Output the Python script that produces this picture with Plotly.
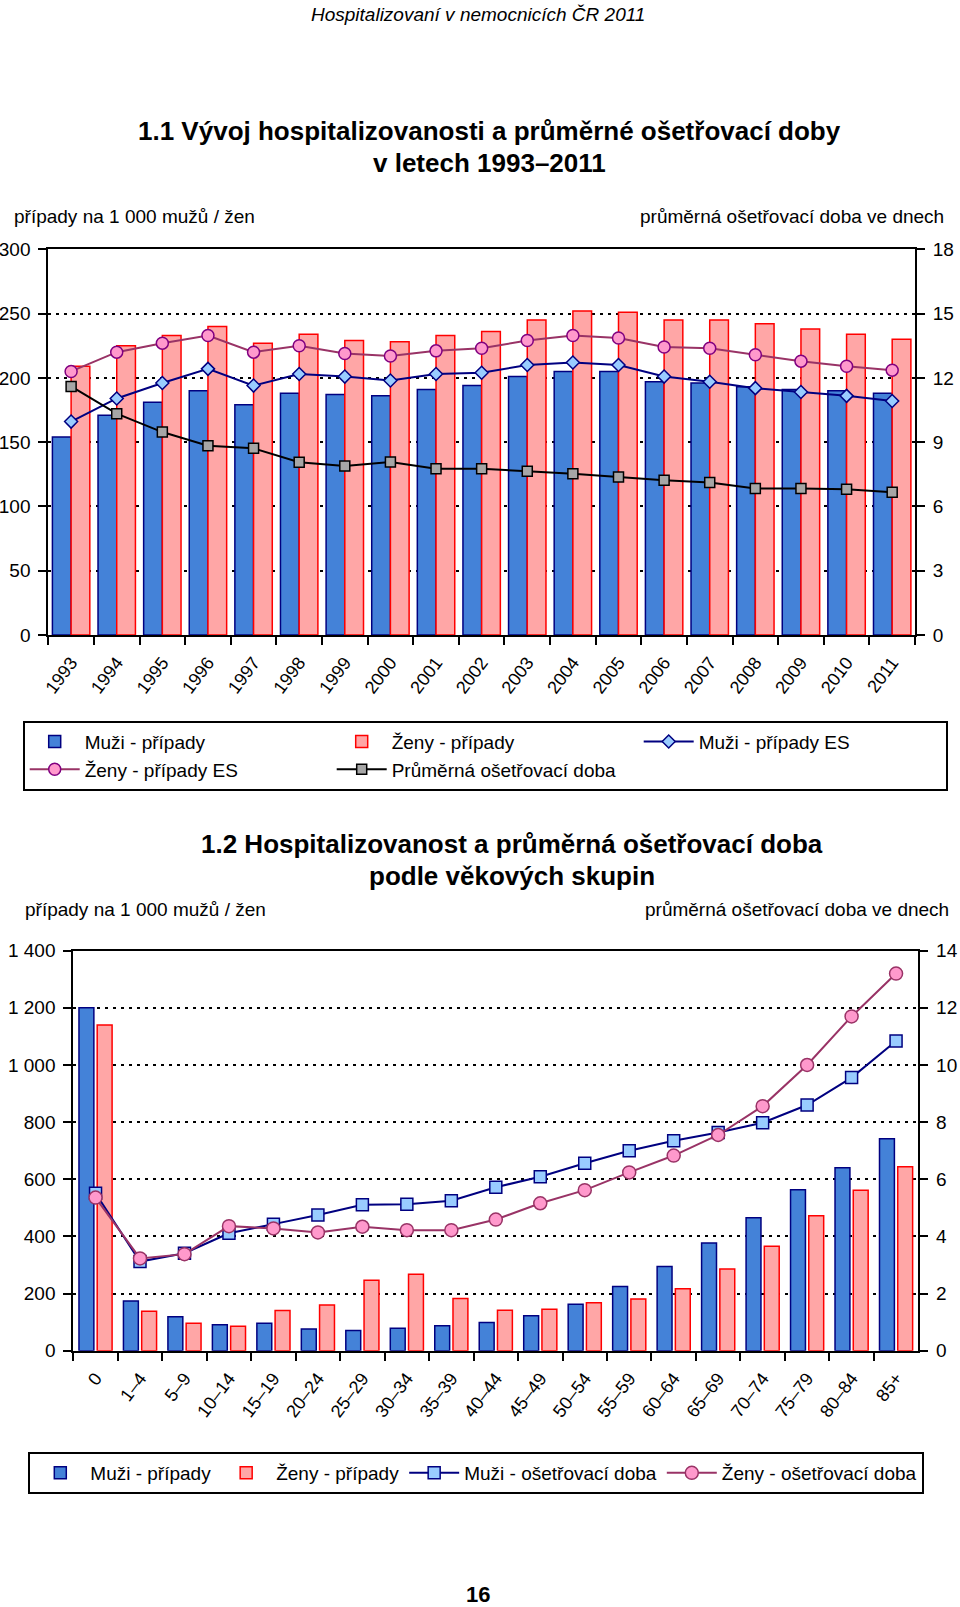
import plotly.graph_objects as go

# ---------------- data: chart 1.1 ----------------
years = [str(y) for y in range(1993, 2012)]
muzi_pripady = [154, 171, 181, 190, 179, 188, 187, 186, 191, 194, 201, 205, 205, 197, 196, 193, 191, 190, 188]
zeny_pripady = [209, 225, 233, 240, 227, 234, 229, 228, 233, 236, 245, 252, 251, 245, 245, 242, 238, 234, 230]
muzi_es = [166, 184, 196, 207, 194, 203, 201, 198, 203, 204, 210, 212, 210, 201, 197, 192, 189, 186, 182]
zeny_es = [205, 220, 227, 233, 220, 225, 219, 217, 221, 223, 229, 233, 231, 224, 223, 218, 213, 209, 206]
prum_doba = [11.6, 10.33, 9.47, 8.83, 8.71, 8.06, 7.89, 8.07, 7.76, 7.76, 7.64, 7.53, 7.37, 7.22, 7.12, 6.84, 6.84, 6.80, 6.66]

# ---------------- data: chart 1.2 ----------------
vek = ["0", "1–4", "5–9", "10–14", "15–19", "20–24", "25–29", "30–34", "35–39", "40–44",
       "45–49", "50–54", "55–59", "60–64", "65–69", "70–74", "75–79", "80–84", "85+"]
muzi_vek = [1200, 174, 119, 91, 96, 76, 71, 79, 87, 99, 122, 163, 225, 295, 377, 465, 563, 640, 742]
zeny_vek = [1140, 138, 96, 86, 141, 160, 247, 268, 183, 142, 145, 168, 181, 217, 286, 366, 472, 562, 644]
muzi_doba = [5.51, 3.12, 3.41, 4.11, 4.43, 4.75, 5.11, 5.13, 5.25, 5.72, 6.09, 6.56, 7.0, 7.35, 7.64, 7.98, 8.6, 9.56, 10.84]
zeny_doba = [5.36, 3.23, 3.38, 4.36, 4.28, 4.14, 4.34, 4.22, 4.22, 4.59, 5.16, 5.62, 6.24, 6.83, 7.55, 8.56, 10.0, 11.7, 13.2]

left_ticks_2 = [0, 200, 400, 600, 800, 1000, 1200, 1400]
left_text_2 = ["0", "200", "400", "600", "800", "1 000", "1 200", "1 400"]

# ---------------- styling ----------------
W, H = 960, 1607
FONT = "Liberation Sans, Arial, sans-serif"
BLUE = "#4482D8"
BLUE_LINE = "#000080"
PINK = "#FFA6A6"
RED_LINE = "#FF0000"
MAUVE = "#993366"
PINK_MK = "#FF99CC"
LIGHTBLUE = "#99CCFF"
GRAY = "#A6A6A6"


def px_x(v):
    return v / W


def px_y(v):
    return 1 - v / H


fig = go.Figure()

# chart 1.1 traces
fig.add_trace(go.Bar(x=years, y=muzi_pripady, name="Muži - případy", xaxis="x", yaxis="y",
                     marker=dict(color=BLUE, line=dict(color=BLUE_LINE, width=1.5)), legend="legend"))
fig.add_trace(go.Bar(x=years, y=zeny_pripady, name="Ženy - případy", xaxis="x", yaxis="y",
                     marker=dict(color=PINK, line=dict(color=RED_LINE, width=1.5)), legend="legend"))
fig.add_trace(go.Scatter(x=years, y=muzi_es, name="Muži - případy ES", xaxis="x", yaxis="y",
                         mode="lines+markers", line=dict(color=BLUE_LINE, width=2),
                         marker=dict(symbol="diamond", size=10, color=LIGHTBLUE,
                                     line=dict(color=BLUE_LINE, width=1.5)), legend="legend"))
fig.add_trace(go.Scatter(x=years, y=zeny_es, name="Ženy - případy ES", xaxis="x", yaxis="y",
                         mode="lines+markers", line=dict(color=MAUVE, width=2),
                         marker=dict(symbol="circle", size=12, color=PINK_MK,
                                     line=dict(color="#800080", width=1.5)), legend="legend"))
fig.add_trace(go.Scatter(x=years, y=prum_doba, name="Průměrná ošetřovací doba", xaxis="x", yaxis="y2",
                         mode="lines+markers", line=dict(color="black", width=2),
                         marker=dict(symbol="square", size=10, color=GRAY,
                                     line=dict(color="black", width=1.5)), legend="legend"))

# chart 1.2 traces
fig.add_trace(go.Bar(x=vek, y=muzi_vek, name="Muži - případy", xaxis="x2", yaxis="y3",
                     marker=dict(color=BLUE, line=dict(color=BLUE_LINE, width=1.5)), legend="legend2"))
fig.add_trace(go.Bar(x=vek, y=zeny_vek, name="Ženy - případy", xaxis="x2", yaxis="y3",
                     marker=dict(color=PINK, line=dict(color=RED_LINE, width=1.5)), legend="legend2"))
fig.add_trace(go.Scatter(x=vek, y=muzi_doba, name="Muži - ošetřovací doba", xaxis="x2", yaxis="y4",
                         mode="lines+markers", line=dict(color=BLUE_LINE, width=2),
                         marker=dict(symbol="square", size=12, color=LIGHTBLUE,
                                     line=dict(color=BLUE_LINE, width=1.5)), legend="legend2"))
fig.add_trace(go.Scatter(x=vek, y=zeny_doba, name="Ženy - ošetřovací doba", xaxis="x2", yaxis="y4",
                         mode="lines+markers", line=dict(color=MAUVE, width=2),
                         marker=dict(symbol="circle", size=13, color=PINK_MK,
                                     line=dict(color=MAUVE, width=1.5)), legend="legend2"))

tickfont = dict(family=FONT, size=19, color="black")
grid = dict(showgrid=True, gridcolor="black", griddash="3px,5px", gridwidth=2)
common_y = dict(showline=True, linecolor="black", linewidth=2, ticks="outside", ticklen=8,
                tickwidth=2, tickcolor="black", tickfont=tickfont, zeroline=False, automargin=False,
                ticklabelstandoff=4)
common_x = dict(type="category", showline=True, linecolor="black", linewidth=2, mirror=True,
                ticks="outside", ticklen=8, tickwidth=2, tickcolor="black", tickson="boundaries",
                tickangle=-53, tickfont=dict(family=FONT, size=18, color="black"),
                showgrid=False, zeroline=False, automargin=False, ticklabelstandoff=8)

top_x = [px_x(48.3), px_x(915)]
top_y = [px_y(635), px_y(249.3)]
bot_x = [px_x(73.3), px_x(918.3)]
bot_y = [px_y(1350.7), px_y(950.7)]

legend_common = dict(orientation="h", bordercolor="black", borderwidth=2, bgcolor="white",
                     font=dict(family=FONT, size=19, color="black"), xanchor="left", yanchor="top",
                     traceorder="normal", itemwidth=50)

fig.update_layout(
    width=W, height=H,
    margin=dict(l=0, r=0, t=0, b=0),
    paper_bgcolor="white", plot_bgcolor="white",
    font=dict(family=FONT, size=19, color="black"),
    barmode="group",
    bargap=0.18,
    bargroupgap=0,
    xaxis=dict(domain=top_x, anchor="y", range=[-0.5, len(years) - 0.5], **common_x),
    yaxis=dict(domain=top_y, anchor="x", range=[0, 300], dtick=50, **grid, **common_y),
    yaxis2=dict(overlaying="y", side="right", anchor="x", range=[0, 18], dtick=3, showgrid=False,
                **common_y),
    xaxis2=dict(domain=bot_x, anchor="y3", range=[-0.5, len(vek) - 0.5], **common_x),
    yaxis3=dict(domain=bot_y, anchor="x2", range=[0, 1400], tickvals=left_ticks_2,
                ticktext=left_text_2, **grid, **common_y),
    yaxis4=dict(overlaying="y3", side="right", anchor="x2", range=[0, 14], dtick=2, showgrid=False,
                **common_y),
    legend=dict(x=px_x(22.7), y=px_y(720.7), entrywidth=242, entrywidthmode="pixels", **legend_common),
    legend2=dict(x=px_x(28.3), y=px_y(1452), **legend_common),
    showlegend=True,
)

# narrower bars in the lower chart
fig.update_traces(selector=dict(xaxis="x2", type="bar"), width=0.335)

annos = [
    dict(text="<i>Hospitalizovaní v nemocnicích ČR 2011</i>", x=px_x(478), y=px_y(14.5), size=19, anchor="center"),
    dict(text="<b>1.1 Vývoj hospitalizovanosti a průměrné ošetřovací doby</b>", x=px_x(489), y=px_y(131), size=26, anchor="center"),
    dict(text="<b>v letech 1993–2011</b>", x=px_x(489), y=px_y(163), size=26, anchor="center"),
    dict(text="případy na 1 000 mužů / žen", x=px_x(12), y=px_y(216), size=19, anchor="left"),
    dict(text="průměrná ošetřovací doba ve dnech", x=px_x(946), y=px_y(216), size=19, anchor="right"),
    dict(text="<b>1.2 Hospitalizovanost a průměrná ošetřovací doba</b>", x=px_x(512), y=px_y(844), size=26, anchor="center"),
    dict(text="<b>podle věkových skupin</b>", x=px_x(512), y=px_y(876), size=26, anchor="center"),
    dict(text="případy na 1 000 mužů / žen", x=px_x(23), y=px_y(909), size=19, anchor="left"),
    dict(text="průměrná ošetřovací doba ve dnech", x=px_x(951), y=px_y(909), size=19, anchor="right"),
    dict(text="<b>16</b>", x=px_x(478), y=px_y(1594), size=22, anchor="center"),
]
for a in annos:
    fig.add_annotation(text=a["text"], x=a["x"], y=a["y"], xref="paper", yref="paper",
                       xanchor=a["anchor"], yanchor="middle", showarrow=False,
                       font=dict(family=FONT, size=a["size"], color="black"))

fig.write_html("out.html")
